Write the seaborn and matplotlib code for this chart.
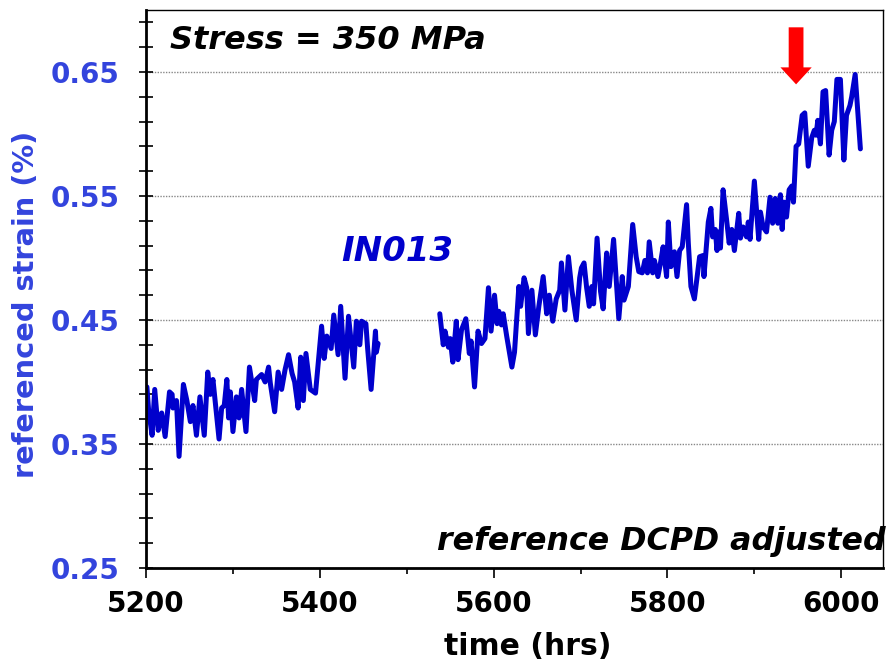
import numpy as np
import pandas as pd
import matplotlib
matplotlib.use("Agg")
import matplotlib.pyplot as plt
from matplotlib.ticker import FixedLocator
import seaborn as sns

# ---------------- data ----------------
time_a = [5201, 5203, 5207, 5210, 5214, 5218, 5222, 5227, 5230, 5231, 5235, 5238,
          5243, 5247, 5251, 5254, 5258, 5262, 5267, 5271, 5274, 5277, 5284, 5287,
          5290, 5293, 5295, 5297, 5300, 5304, 5307, 5310, 5315, 5319, 5325, 5327,
          5333, 5337, 5341, 5343, 5348, 5352, 5356, 5360, 5364, 5368, 5371, 5375,
          5378, 5381, 5384, 5389, 5395, 5402, 5405, 5408, 5413, 5416, 5421, 5424,
          5429, 5433, 5439, 5442, 5446, 5448, 5453, 5455, 5459, 5464, 5465, 5467]
strain_a = [0.396, 0.377, 0.357, 0.394, 0.361, 0.375, 0.356, 0.392, 0.390, 0.379, 0.385, 0.340,
            0.398, 0.385, 0.368, 0.381, 0.357, 0.388, 0.357, 0.408, 0.390, 0.402, 0.354, 0.379,
            0.381, 0.402, 0.371, 0.392, 0.360, 0.388, 0.371, 0.394, 0.360, 0.412, 0.385, 0.402,
            0.406, 0.400, 0.412, 0.399, 0.376, 0.408, 0.394, 0.410, 0.422, 0.407, 0.400, 0.379,
            0.420, 0.385, 0.423, 0.394, 0.391, 0.445, 0.419, 0.437, 0.427, 0.454, 0.422, 0.461,
            0.403, 0.453, 0.412, 0.449, 0.430, 0.449, 0.447, 0.427, 0.394, 0.441, 0.424, 0.431]

time_b = [5538, 5542, 5544, 5548, 5550, 5553, 5557, 5559, 5563, 5568, 5572, 5574,
          5578, 5582, 5586, 5590, 5594, 5597, 5601, 5604, 5606, 5609, 5611, 5615,
          5621, 5624, 5629, 5631, 5635, 5638, 5640, 5644, 5648, 5652, 5657, 5661,
          5664, 5668, 5672, 5676, 5678, 5682, 5686, 5690, 5695, 5699, 5701, 5704,
          5707, 5710, 5713, 5715, 5719, 5723, 5726, 5730, 5733, 5738, 5744, 5748,
          5750, 5755, 5760, 5764, 5767, 5771, 5774, 5777, 5779, 5783, 5785, 5789,
          5792, 5795, 5799, 5801, 5804, 5808, 5811, 5814, 5817, 5822, 5824, 5827,
          5831, 5837, 5841, 5842, 5847, 5850, 5852, 5855, 5857, 5859, 5861, 5864,
          5868, 5871, 5874, 5877, 5882, 5884, 5887, 5891, 5893, 5895, 5900, 5905,
          5907, 5910, 5914, 5918, 5921, 5924, 5927, 5930, 5932, 5934, 5937, 5940,
          5943, 5945, 5948, 5951, 5955, 5958, 5962, 5966, 5969, 5971, 5973, 5976,
          5979, 5982, 5986, 5989, 5992, 5995, 5999, 6003, 6006, 6010, 6012, 6016,
          6022]
strain_b = [0.455, 0.430, 0.441, 0.428, 0.435, 0.416, 0.449, 0.418, 0.442, 0.451, 0.423, 0.433,
            0.396, 0.441, 0.431, 0.435, 0.476, 0.441, 0.470, 0.447, 0.457, 0.446, 0.455, 0.437,
            0.412, 0.424, 0.477, 0.461, 0.484, 0.476, 0.439, 0.474, 0.438, 0.461, 0.485, 0.455,
            0.470, 0.449, 0.467, 0.474, 0.496, 0.458, 0.501, 0.474, 0.450, 0.484, 0.492, 0.496,
            0.476, 0.461, 0.477, 0.463, 0.516, 0.473, 0.459, 0.504, 0.477, 0.515, 0.451, 0.485,
            0.466, 0.477, 0.527, 0.501, 0.489, 0.488, 0.498, 0.488, 0.513, 0.488, 0.498, 0.485,
            0.496, 0.509, 0.485, 0.529, 0.493, 0.505, 0.485, 0.506, 0.509, 0.543, 0.512, 0.477,
            0.467, 0.501, 0.502, 0.485, 0.529, 0.540, 0.517, 0.523, 0.506, 0.521, 0.508, 0.555,
            0.531, 0.512, 0.523, 0.506, 0.536, 0.516, 0.525, 0.517, 0.529, 0.515, 0.562, 0.515,
            0.537, 0.525, 0.521, 0.549, 0.528, 0.548, 0.528, 0.551, 0.523, 0.545, 0.533, 0.555,
            0.558, 0.545, 0.590, 0.592, 0.615, 0.617, 0.574, 0.597, 0.603, 0.599, 0.611, 0.592,
            0.634, 0.635, 0.583, 0.603, 0.610, 0.644, 0.644, 0.579, 0.615, 0.623, 0.630, 0.648,
            0.588]

x_major_ticks = [5200, 5400, 5600, 5800, 6000]
x_minor_ticks = [5300, 5500, 5700, 5900]
y_major_ticks = [0.25, 0.35, 0.45, 0.55, 0.65]
y_tick_labels = ["0.25", "0.35", "0.45", "0.55", "0.65"]
y_minor_ticks = [round(0.25 + 0.02 * i, 2) for i in range(23)]

arrow_time = 5948
arrow_top = 0.686
arrow_tip = 0.640

title_text = "Stress = 350 MPa"
series_label = "IN013"
note_text = "reference DCPD adjusted"
xlabel = "time (hrs)"
ylabel = "referenced strain (%)"

# ---------------- style ----------------
sns.set_style("ticks")
plt.rcParams["font.family"] = ["DejaVu Sans"]
plt.rcParams["font.weight"] = "bold"

line_color = "#0000CC"
label_blue = "#3344DD"

fig = plt.figure(figsize=(8.91, 6.64), dpi=100)
ax = fig.add_axes([0.1639, 0.1446, 0.991 - 0.1639, 0.985 - 0.1446])

df_a = pd.DataFrame({"time": time_a, "strain": strain_a})
df_b = pd.DataFrame({"time": time_b, "strain": strain_b})
sns.lineplot(data=df_a, x="time", y="strain", ax=ax, color=line_color,
             linewidth=3.6, estimator=None, sort=False)
sns.lineplot(data=df_b, x="time", y="strain", ax=ax, color=line_color,
             linewidth=3.6, estimator=None, sort=False)

ax.set_xlim(5200, 6048)
ax.set_ylim(0.25, 0.70)

ax.xaxis.set_major_locator(FixedLocator(x_major_ticks))
ax.xaxis.set_minor_locator(FixedLocator(x_minor_ticks))
ax.yaxis.set_major_locator(FixedLocator(y_major_ticks))
ax.yaxis.set_minor_locator(FixedLocator(y_minor_ticks))
ax.set_xticklabels([str(t) for t in x_major_ticks], fontsize=20, fontweight="bold", color="black")
ax.set_yticklabels(y_tick_labels, fontsize=20, fontweight="bold", color=label_blue)

ax.tick_params(axis="y", which="both", direction="inout", length=10, width=1.2,
               color="black", pad=14)
ax.tick_params(axis="x", which="major", direction="out", length=7, width=1.2,
               color="black", pad=9)
ax.tick_params(axis="x", which="minor", direction="out", length=4.5, width=1.2,
               color="black")

ax.grid(axis="y", which="major", linestyle=(0, (1, 1)), color="#888888", linewidth=1.0)
ax.set_axisbelow(True)

for side in ["left", "bottom"]:
    ax.spines[side].set_linewidth(2.0)
    ax.spines[side].set_color("black")
for side in ["top", "right"]:
    ax.spines[side].set_linewidth(1.0)
    ax.spines[side].set_color("black")
    ax.spines[side].set_visible(True)

ax.set_xlabel(xlabel, fontsize=21.5, fontweight="bold", color="black", labelpad=10)
ax.set_ylabel(ylabel, fontsize=20.8, fontweight="bold", color=label_blue, labelpad=8)
ax.xaxis.label.set_x(0.518)
ax.yaxis.label.set_y(0.473)

ax.text(0.032, 0.945, title_text, transform=ax.transAxes, fontsize=23,
        fontweight="bold", fontstyle="italic", color="black", va="center", ha="left")
ax.text(5425, 0.505, series_label, fontsize=24.5, fontweight="bold",
        fontstyle="italic", color=line_color, va="center", ha="left")
ax.text(1.003, 0.048, note_text, transform=ax.transAxes, fontsize=22.8,
        fontweight="bold", fontstyle="italic", color="black", va="center", ha="right",
        clip_on=False)

ax.arrow(arrow_time, arrow_top, 0, -(arrow_top - arrow_tip - 0.0137), width=17,
         head_width=36, head_length=0.0137, length_includes_head=False,
         color="#FF0000", ec="none", zorder=5)

fig.savefig("out.png", dpi=100)
